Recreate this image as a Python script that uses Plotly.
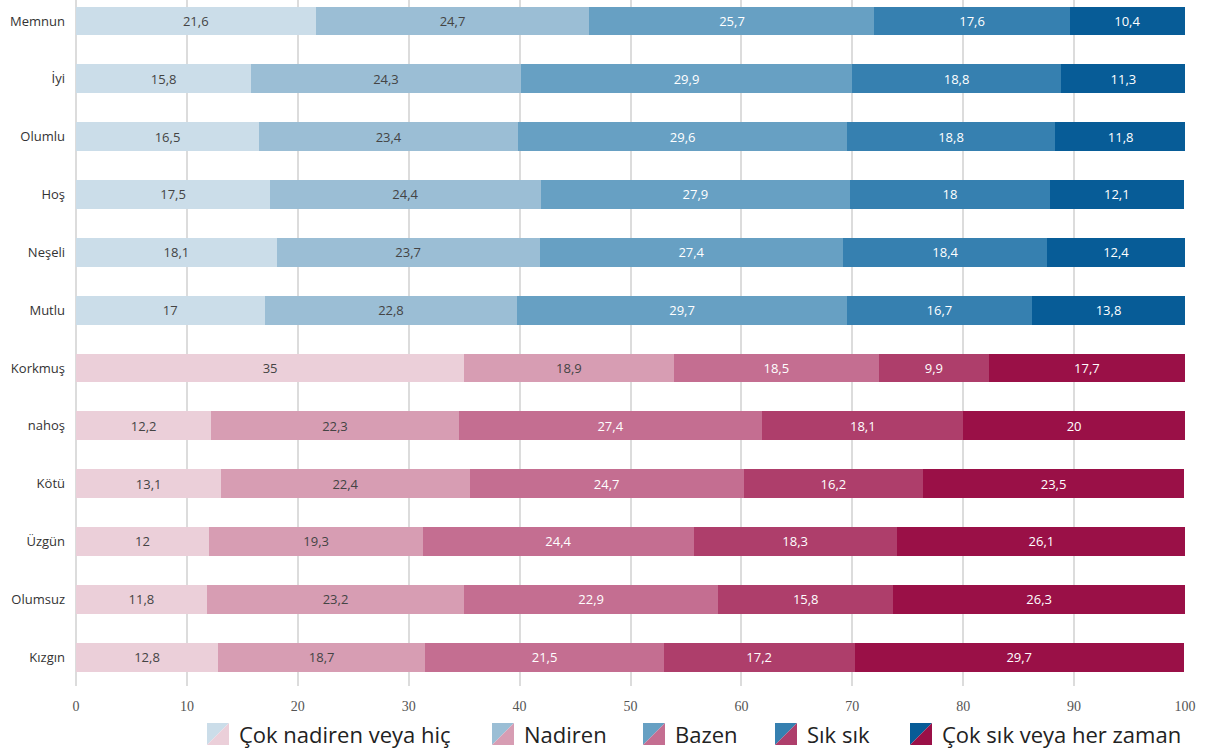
import plotly.graph_objects as go

# satırlar (yukarıdan aşağıya)
kategoriler = ['Memnun', 'İyi', 'Olumlu', 'Hoş', 'Neşeli', 'Mutlu',
               'Korkmuş', 'nahoş', 'Kötü', 'Üzgün', 'Olumsuz', 'Kızgın']
olumlu = [True] * 6 + [False] * 6

seriler = ['Çok nadiren veya hiç', 'Nadiren', 'Bazen', 'Sık sık', 'Çok sık veya her zaman']

cok_nadiren = [21.6, 15.8, 16.5, 17.5, 18.1, 17, 35, 12.2, 13.1, 12, 11.8, 12.8]
nadiren = [24.7, 24.3, 23.4, 24.4, 23.7, 22.8, 18.9, 22.3, 22.4, 19.3, 23.2, 18.7]
bazen = [25.7, 29.9, 29.6, 27.9, 27.4, 29.7, 18.5, 27.4, 24.7, 24.4, 22.9, 21.5]
sik_sik = [17.6, 18.8, 18.8, 18, 18.4, 16.7, 9.9, 18.1, 16.2, 18.3, 15.8, 17.2]
her_zaman = [10.4, 11.3, 11.8, 12.1, 12.4, 13.8, 17.7, 20, 23.5, 26.1, 26.3, 29.7]
degerler = [cok_nadiren, nadiren, bazen, sik_sik, her_zaman]

mavi = ['#cbdde9', '#9bbed5', '#67a0c3', '#3680b0', '#075c97']
pembe = ['#ebcfd9', '#d79db3', '#c46e91', '#ae3e6b', '#9a1047']
yazi_renk = ['#444444', '#444444', '#ffffff', '#ffffff', '#ffffff']

FONT = 'Open Sans'
L, R, T, B = 76, 20, 0, 66
W, H = 1205, 752
plot_w = W - L - R
plot_h = H - T - B

fig = go.Figure()
for i, ad in enumerate(seriler):
    renkler = [mavi[i] if o else pembe[i] for o in olumlu]
    fig.add_trace(go.Bar(
        y=kategoriler, x=degerler[i], orientation='h', name=ad,
        marker=dict(color=renkler, line=dict(width=0)),
        text=[f'{v:g}'.replace('.', ',') for v in degerler[i]],
        textposition='inside', insidetextanchor='middle', textangle=0,
        constraintext='none',
        textfont=dict(family=FONT, size=13, color=yazi_renk[i]),
        width=0.5, showlegend=False,
    ))

# elle çizilen lejant (çapraz bölünmüş kareler)
lejant_x = [207, 492, 643, 775, 910]
kare = 22
lejant_y = 723


def px(x):
    return (x - L) / plot_w


def py(y):
    return (plot_h + T - y) / plot_h


shapes = []
annotations = []
for i, ad in enumerate(seriler):
    x0, x1 = px(lejant_x[i]), px(lejant_x[i] + kare)
    y0, y1 = py(lejant_y + kare), py(lejant_y)
    shapes.append(dict(type='path', xref='paper', yref='paper',
                       path=f'M {x0} {y0} L {x0} {y1} L {x1} {y1} Z',
                       fillcolor=mavi[i], line=dict(width=0)))
    shapes.append(dict(type='path', xref='paper', yref='paper',
                       path=f'M {x0} {y0} L {x1} {y1} L {x1} {y0} Z',
                       fillcolor=pembe[i], line=dict(width=0)))
    annotations.append(dict(xref='paper', yref='paper', x=px(lejant_x[i] + kare + 8),
                            y=py(lejant_y + kare / 2), xanchor='left', yanchor='middle',
                            text=ad, showarrow=False,
                            font=dict(family=FONT, size=22, color='#222222')))

fig.update_layout(
    width=W, height=H,
    barmode='stack',
    plot_bgcolor='white', paper_bgcolor='white',
    margin=dict(l=L, r=R, t=T, b=B, pad=0, autoexpand=False),
    xaxis=dict(range=[0, 100], dtick=10, showgrid=True, gridcolor='#dcdcdc', gridwidth=1.5,
               zeroline=True, zerolinecolor='#dcdcdc', zerolinewidth=1.5,
               ticklabelstandoff=10,
               tickfont=dict(family='Liberation Serif', size=14, color='#555555')),
    yaxis=dict(type='category', categoryorder='array', categoryarray=kategoriler,
               range=[11.5, -0.363], showgrid=False, ticklabelstandoff=10,
               tickfont=dict(family=FONT, size=13, color='#333333')),
    shapes=shapes,
    annotations=annotations,
    uniformtext=dict(minsize=8, mode='show'),
)

# sayfa kenar boşluğunu sıfırla
fig.write_html('out.html', config={'displayModeBar': False},
               post_script="document.body.style.margin='0';")
